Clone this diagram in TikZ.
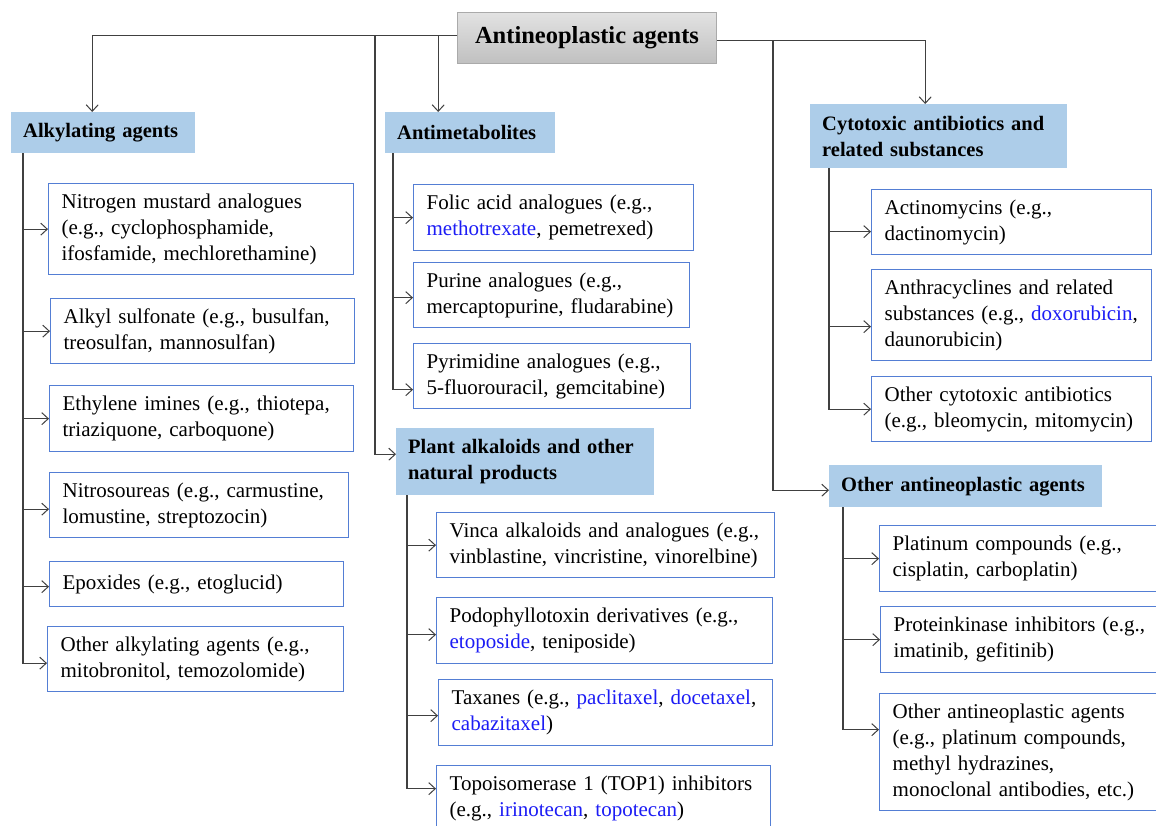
\documentclass[tikz,border=0pt]{standalone}
\usepackage{fontspec}
\setmainfont{Liberation Serif}
\usetikzlibrary{arrows.meta}

\definecolor{boxblue}{RGB}{84,126,212}
\definecolor{hdrblue}{RGB}{173,205,233}
\definecolor{drugblue}{RGB}{28,28,245}
\definecolor{linegray}{RGB}{64,64,64}
\definecolor{titletop}{RGB}{226,226,226}
\definecolor{titlebot}{RGB}{192,192,192}
\definecolor{titleedge}{RGB}{170,170,170}

\newcommand\drug[1]{\textcolor{drugblue}{#1}}

\begin{document}
\begin{tikzpicture}[x=1pt,y=-1pt,
  item/.style={draw=boxblue, line width=1.3pt, fill=white, anchor=north west,
    align=left, inner xsep=13pt, inner ysep=0pt,
    font=\fontsize{21}{26}\selectfont\frenchspacing},
  header/.style={fill=hdrblue, anchor=north west, align=left,
    inner xsep=12pt, inner ysep=0pt,
    font=\fontsize{20.5}{26}\selectfont\bfseries},
  trunk/.style={draw=linegray, line width=1.1pt},
  link/.style={trunk, -{Straight Barb[length=6.5pt,width=12pt,line width=1pt]}}]

\clip (0,0) rectangle (1156,825);
\fill[white] (0,0) rectangle (1156,825);

% root
\node[draw=titleedge, line width=1pt, top color=titletop, bottom color=titlebot,
  anchor=north west, minimum width=259pt, minimum height=51pt, inner sep=0pt,
  font=\fontsize{24.5}{28}\selectfont\bfseries] (title) at (457,12) {Antineoplastic agents};

% category headers
\node[header, text width=160pt, minimum height=41pt] (alk) at (11,112) {Alkylating agents};
\node[header, text width=146pt, minimum height=41pt] (anti) at (385,112) {Antimetabolites};
\node[header, text width=233pt, minimum height=64pt] (cyto) at (810,104) {Cytotoxic antibiotics and\\related substances};
\node[header, text width=234pt, minimum height=67pt] (plant) at (396,428) {Plant alkaloids and other\\natural products};
\node[header, text width=249pt, minimum height=42pt] (oth) at (829,465) {Other antineoplastic agents};

% alkylating agents
\node[item, text width=279pt, minimum height=91pt] (nm) at (48,183) {Nitrogen mustard analogues\\(e.g., cyclophosphamide,\\ifosfamide, mechlorethamine)};
\node[item, text width=278pt, minimum height=65pt] (as) at (50,298) {Alkyl sulfonate (e.g., busulfan,\\treosulfan, mannosulfan)};
\node[item, text width=278pt, minimum height=66pt] (ei) at (49,385) {Ethylene imines (e.g., thiotepa,\\triaziquone, carboquone)};
\node[item, text width=273pt, minimum height=65pt] (ns) at (49,472) {Nitrosoureas (e.g., carmustine,\\lomustine, streptozocin)};
\node[item, text width=268pt, minimum height=45pt] (ep) at (49,561) {Epoxides (e.g., etoglucid)};
\node[item, text width=270pt, minimum height=65pt] (oa) at (47,626) {Other alkylating agents (e.g.,\\mitobronitol, temozolomide)};

% antimetabolites
\node[item, text width=254pt, minimum height=66pt] (fa) at (413,184) {Folic acid analogues (e.g.,\\\drug{methotrexate}, pemetrexed)};
\node[item, text width=250pt, minimum height=65pt] (pu) at (413,262) {Purine analogues (e.g.,\\mercaptopurine, fludarabine)};
\node[item, text width=251pt, minimum height=65pt] (py) at (413,343) {Pyrimidine analogues (e.g.,\\5-fluorouracil, gemcitabine)};

% plant alkaloids
\node[item, text width=312pt, minimum height=65pt] (vi) at (436,512) {Vinca alkaloids and analogues (e.g.,\\vinblastine, vincristine, vinorelbine)};
\node[item, text width=310pt, minimum height=66pt] (po) at (436,597) {Podophyllotoxin derivatives (e.g.,\\\drug{etoposide}, teniposide)};
\node[item, text width=308pt, minimum height=66pt] (ta) at (438,679) {Taxanes (e.g., \drug{paclitaxel}, \drug{docetaxel},\\\drug{cabazitaxel})};
\node[item, text width=308pt, minimum height=66pt] (to) at (436,765) {Topoisomerase 1 (TOP1) inhibitors\\(e.g., \drug{irinotecan}, \drug{topotecan})};

% cytotoxic antibiotics
\node[item, text width=254pt, minimum height=65pt] (ac) at (871,189) {Actinomycins (e.g.,\\dactinomycin)};
\node[item, text width=254pt, minimum height=91pt] (an) at (871,269) {Anthracyclines and related\\substances (e.g., \drug{doxorubicin},\\daunorubicin)};
\node[item, text width=254pt, minimum height=65pt] (oc) at (871,376) {Other cytotoxic antibiotics\\(e.g., bleomycin, mitomycin)};

% other antineoplastic agents
\node[item, text width=265pt, minimum height=66pt] (pl) at (879,525) {Platinum compounds (e.g.,\\cisplatin, carboplatin)};
\node[item, text width=264pt, minimum height=66pt] (pk) at (880,606) {Proteinkinase inhibitors (e.g.,\\imatinib, gefitinib)};
\node[item, text width=265pt, minimum height=117pt] (ot) at (879,693) {Other antineoplastic agents\\(e.g., platinum compounds,\\methyl hydrazines,\\monoclonal antibodies, etc.)};

% junctions on the top bars
\coordinate (plantJ) at (375,35);
\coordinate (othJ) at (773,40);

% root to categories
\draw[link] ([yshift=2.5pt]title.west) -| ([xshift=-11pt]alk.north);
\draw[link] ([yshift=2.5pt]title.west) -| ([xshift=-32pt]anti.north);
\draw[link] (plantJ) |- ([yshift=7.5pt]plant.west);
\draw[link] ([yshift=-2.5pt]title.east) -| ([xshift=-13.5pt]cyto.north);
\draw[link] (othJ) |- ([yshift=-4pt]oth.west);

% alkylating agents branch
\draw[link] ([xshift=12pt]alk.south west) |- (nm.west);
\draw[link] ([xshift=12pt]alk.south west) |- (as.west);
\draw[link] ([xshift=12pt]alk.south west) |- (ei.west);
\draw[link] ([xshift=12pt]alk.south west) |- ([yshift=-4pt]ns.west);
\draw[link] ([xshift=12pt]alk.south west) |- ([yshift=-2.5pt]ep.west);
\draw[link] ([xshift=12pt]alk.south west) |- ([yshift=-4pt]oa.west);

% antimetabolites branch
\draw[link] ([xshift=8pt]anti.south west) |- (fa.west);
\draw[link] ([xshift=8pt]anti.south west) |- ([yshift=-2.5pt]pu.west);
\draw[link] ([xshift=8pt]anti.south west) |- ([yshift=-13.5pt]py.west);

% plant alkaloids branch
\draw[link] ([xshift=11pt]plant.south west) |- (vi.west);
\draw[link] ([xshift=11pt]plant.south west) |- ([yshift=-4pt]po.west);
\draw[link] ([xshift=11pt]plant.south west) |- ([yshift=-3pt]ta.west);
\draw[link] ([xshift=11pt]plant.south west) |- ([yshift=10pt]to.west);

% cytotoxic antibiotics branch
\draw[link] ([xshift=19pt]cyto.south west) |- ([yshift=-9.5pt]ac.west);
\draw[link] ([xshift=19pt]cyto.south west) |- ([yshift=-11.5pt]an.west);
\draw[link] ([xshift=19pt]cyto.south west) |- (oc.west);

% other antineoplastic agents branch
\draw[link] ([xshift=14pt]oth.south west) |- (pl.west);
\draw[link] ([xshift=14pt]oth.south west) |- (pk.west);
\draw[link] ([xshift=14pt]oth.south west) |- ([yshift=22.5pt]ot.west);

\end{tikzpicture}
\end{document}
